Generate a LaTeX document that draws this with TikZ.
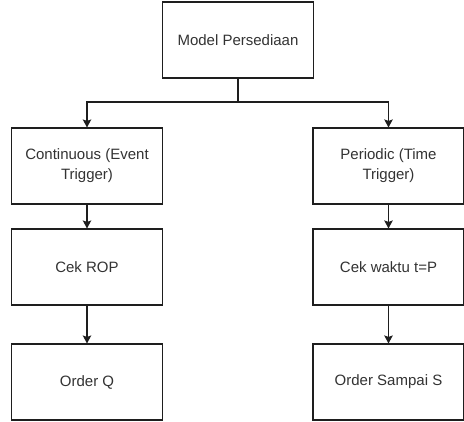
\documentclass[tikz,border=0pt]{standalone}
\usepackage{fontspec}
\setmainfont{Liberation Sans}
\usetikzlibrary{arrows.meta}
\definecolor{linec}{HTML}{1E1E1E}
\definecolor{textc}{HTML}{333333}
\begin{document}
\begin{tikzpicture}[x=1bp,y=-1bp,
  box/.style={draw=linec, line width=1.1bp, fill=white, minimum width=151bp, minimum height=76bp,
    inner sep=0pt, align=center, text=textc, font=\fontsize{15bp}{20bp}\selectfont},
  conn/.style={draw=linec, line width=1.1bp, -{Stealth[length=8bp,width=8.5bp,inset=1.5bp]}}]
\useasboundingbox (0,0) rectangle (464,421);
\fill[white] (0,0) rectangle (464,421);
\node[box] (top) at (238,40) {Model Persediaan};
\node[box] (c1) at (87,166) {Continuous (Event\\Trigger)};
\node[box] (p1) at (388.5,166) {Periodic (Time\\Trigger)};
\node[box] (c2) at (87,267) {Cek ROP};
\node[box] (p2) at (388.5,267) {Cek waktu t=P};
\node[box] (c3) at (87,382) {Order Q};
\node[box] (p3) at (388.5,382) {Order Sampai S};
\coordinate (mid) at (238,102);
\draw[draw=linec, line width=1.1bp] (top.south) -- (mid);
\draw[conn] (mid) -| (c1.north);
\draw[conn] (mid) -| (p1.north);
\draw[conn] (c1) -- (c2);
\draw[conn] (p1) -- (p2);
\draw[conn] (c2) -- (c3);
\draw[conn] (p2) -- (p3);
\end{tikzpicture}
\end{document}
